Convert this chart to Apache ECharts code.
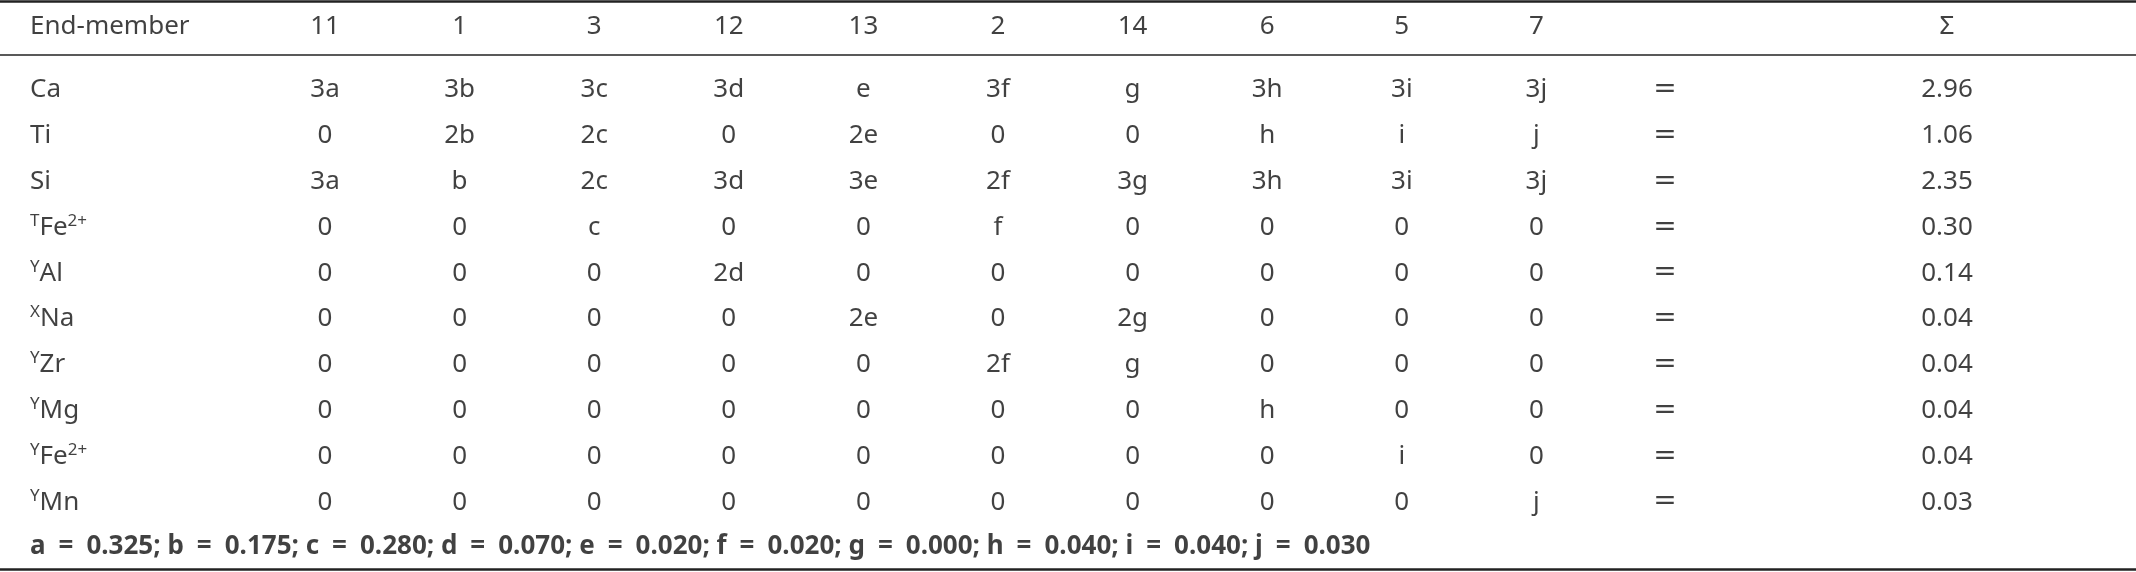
<!DOCTYPE html>
<html><head><meta charset="utf-8">
<script src="https://cdn.jsdelivr.net/npm/echarts@6/dist/echarts.min.js"></script>
<style>html,body{margin:0;padding:0;background:#fff}#c{width:2136px;height:572px}</style>
</head><body><div id="c"></div>
<script>
const endMembers = ['11','1','3','12','13','2','14','6','5','7'];
const rowLabels = ['Ca','Ti','Si','{s|T}Fe{s|2+}','{s|Y}Al','{s|X}Na','{s|Y}Zr','{s|Y}Mg','{s|Y}Fe{s|2+}','{s|Y}Mn'];
const cells = [
 ['3a','3b','3c','3d','e','3f','g','3h','3i','3j'],
 ['0','2b','2c','0','2e','0','0','h','i','j'],
 ['3a','b','2c','3d','3e','2f','3g','3h','3i','3j'],
 ['0','0','c','0','0','f','0','0','0','0'],
 ['0','0','0','2d','0','0','0','0','0','0'],
 ['0','0','0','0','2e','0','2g','0','0','0'],
 ['0','0','0','0','0','2f','g','0','0','0'],
 ['0','0','0','0','0','0','0','h','0','0'],
 ['0','0','0','0','0','0','0','0','i','0'],
 ['0','0','0','0','0','0','0','0','0','j']
];
const sums = ['2.96','1.06','2.35','0.30','0.14','0.04','0.04','0.04','0.04','0.03'];
const footParts = ['a','0.325','b','0.175','c','0.280','d','0.070','e','0.020','f','0.020','g','0.000','h','0.040','i','0.040','j','0.030'];

// layout
const X0 = 325, DX = 134.6, XLAB = 30, XEQ = 1665, XSUM = 1947;
const YHEAD = 27, Y0 = 90, DY = 45.8, YFOOT = 547;
const FONT = 'Noto Sans';
const FS = 26;

let foot = [];
for (let k=0;k<footParts.length;k+=2) foot.push(footParts[k]+'\u2002=\u2002'+footParts[k+1]);
const footnote = foot.join('; ');

const centerPts = [], leftPts = [];
endMembers.forEach((t,i)=>centerPts.push({value:[X0+DX*i, YHEAD], t}));
centerPts.push({value:[XSUM, YHEAD], t:'Σ'});
cells.forEach((row,r)=>{
  row.forEach((t,i)=>centerPts.push({value:[X0+DX*i, Y0+DY*r], t}));
  centerPts.push({value:[XEQ, Y0+DY*r], t:'{eq|=}'});
  centerPts.push({value:[XSUM, Y0+DY*r], t:sums[r]});
  leftPts.push({value:[XLAB, Y0+DY*r], t:rowLabels[r]});
});
leftPts.push({value:[XLAB, YHEAD], t:'End-member'});

const chart = echarts.init(document.getElementById('c'));
const rich = {s:{fontSize:17, fontFamily:FONT, color:'#111', verticalAlign:'top', lineHeight:30}};
chart.setOption({
  animation:false,
  grid:{left:0,right:0,top:0,bottom:0},
  xAxis:{type:'value',min:0,max:2136,show:false},
  yAxis:{type:'value',min:0,max:572,inverse:true,show:false},
  series:[
    {type:'scatter',symbolSize:0,data:centerPts,
     label:{show:true,position:'inside',formatter:p=>p.data.t,fontFamily:FONT,fontSize:FS,color:'#111',
       rich:{eq:{fontFamily:'DejaVu Serif',fontSize:28,color:'#111',fontWeight:'lighter'}}}},
    {type:'scatter',symbolSize:0,data:leftPts,
     label:{show:true,position:'right',distance:0,formatter:p=>p.data.t,fontFamily:FONT,fontSize:FS,color:'#111',lineHeight:30,rich}},
    {type:'scatter',symbolSize:0,data:[{value:[XLAB,YFOOT],t:footnote}],
     label:{show:true,position:'right',distance:0,formatter:p=>p.data.t,fontFamily:FONT,fontSize:FS,fontWeight:'bold',color:'#111'}},
    {type:'line',data:[],markLine:{symbol:'none',silent:true,label:{show:false},
      data:[
        [{coord:[0,1.5],lineStyle:{width:2.5}},{coord:[2136,1.5]}],
        [{coord:[0,55],lineStyle:{width:1.5}},{coord:[2136,55]}],
        [{coord:[0,569.5],lineStyle:{width:2.5}},{coord:[2136,569.5]}]
      ],lineStyle:{color:'#222',type:'solid'}}}
  ]
});
</script></body></html>
